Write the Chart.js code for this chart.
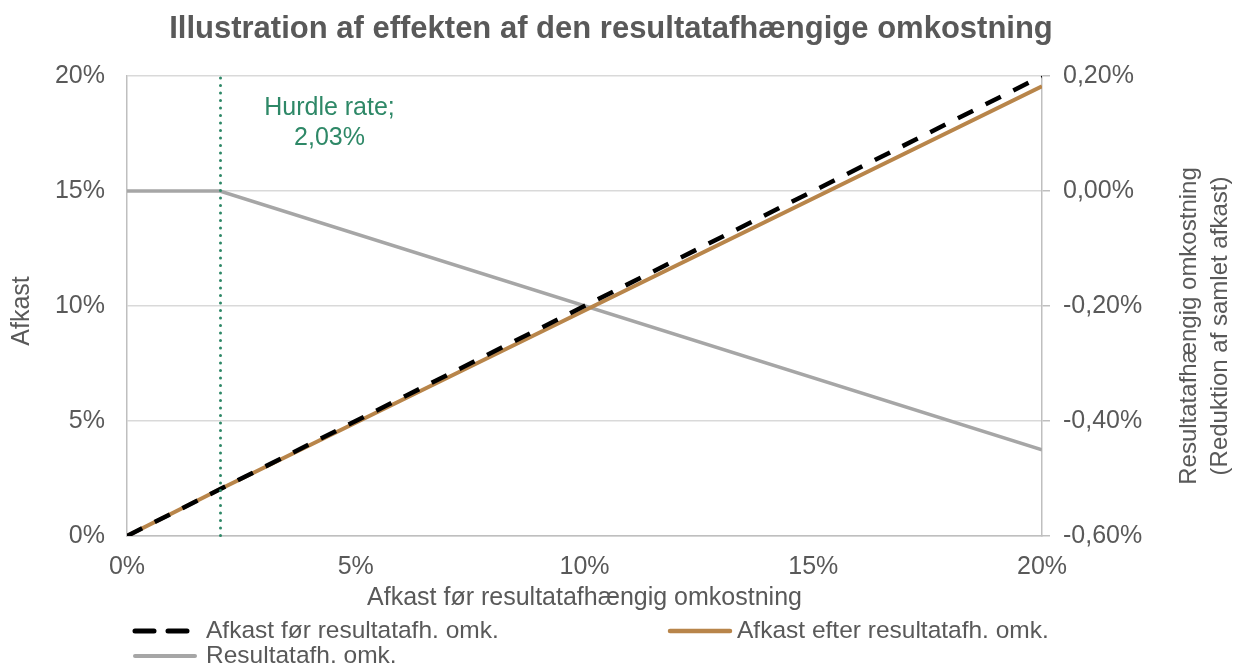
<!DOCTYPE html>
<html lang="da">
<head>
    <meta charset="UTF-8">
    <script src="https://cdn.jsdelivr.net/npm/chart.js"></script>
    <title>Resultatafhængig omkostning</title>
    <style>
        body { margin: 0; background: #fff; }
        #wrap { width: 1238px; height: 667px; }
    </style>
</head>
<body>
    <div id="wrap"><canvas id="fee-chart" width="1238" height="667"></canvas></div>

    <script>
        // afkast før omkostning (x-akse, %)
        const afkastX = [0, 2.03, 20];
        // serier
        const afkastFoer = [0, 2.03, 20];
        const afkastEfter = [0, 2.03, 19.55];
        const omkostning = [0, 0, -0.45];
        const hurdleRate = 2.03;

        const seriesNames = ['Afkast før resultatafh. omk.', 'Afkast efter resultatafh. omk.', 'Resultatafh. omk.'];
        const textColor = '#595959';
        const fontFamily = '"Liberation Sans", Arial, sans-serif';

        function pts(ys) {
            return afkastX.map((x, i) => ({ x: x, y: ys[i] }));
        }
        function pct(v) {
            if (Math.abs(v) < 1e-9) v = 0;
            return v.toFixed(2).replace('.', ',') + '%';
        }

        const extras = {
            id: 'extras',
            afterDatasetsDraw(chart) {
                const { ctx, chartArea, scales } = chart;
                const hx = Math.round(scales.x.getPixelForValue(hurdleRate)) + 0.5;
                ctx.save();
                ctx.strokeStyle = '#2E8867';
                ctx.lineWidth = 3;
                ctx.lineCap = 'round';
                ctx.setLineDash([0, 7.5]);
                ctx.beginPath();
                ctx.moveTo(hx, chartArea.top + 2);
                ctx.lineTo(hx, chartArea.bottom);
                ctx.stroke();
                ctx.setLineDash([]);
                ctx.fillStyle = '#2E8867';
                ctx.font = '25px ' + fontFamily;
                ctx.textAlign = 'center';
                ctx.textBaseline = 'middle';
                ctx.fillText('Hurdle rate;', hx + 109, chartArea.top + 32);
                ctx.fillText(pct(hurdleRate), hx + 109, chartArea.top + 62);
                ctx.restore();
            },
            afterDraw(chart) {
                const { ctx } = chart;
                ctx.save();
                // titel
                ctx.fillStyle = textColor;
                ctx.font = 'bold 31px ' + fontFamily;
                ctx.textAlign = 'center';
                ctx.textBaseline = 'middle';
                ctx.fillText('Illustration af effekten af den resultatafhængige omkostning', 611, 29);

                // venstre aksetitel
                ctx.font = '25px ' + fontFamily;
                ctx.save();
                ctx.translate(22, 311);
                ctx.rotate(-Math.PI / 2);
                ctx.fillText('Afkast', 0, 0);
                ctx.restore();

                // højre aksetitel
                ctx.font = '24px ' + fontFamily;
                ctx.translate(1189, 326);
                ctx.rotate(-Math.PI / 2);
                ctx.fillText('Resultatafhængig omkostning', 0, 0);
                ctx.fillText('(Reduktion af samlet afkast)', 0, 31);
                ctx.restore();

                // forklaring
                ctx.save();
                ctx.font = '24.5px ' + fontFamily;
                ctx.fillStyle = textColor;
                ctx.textBaseline = 'middle';
                ctx.textAlign = 'left';
                const items = [
                    { x: 133, y: 631, color: '#000000', dash: [19, 14], w: 5 },
                    { x: 668, y: 631, color: '#B8854A', dash: [], w: 4.5 },
                    { x: 133, y: 656, color: '#A6A6A6', dash: [], w: 4 }
                ];
                items.forEach((it, i) => {
                    ctx.strokeStyle = it.color;
                    ctx.lineWidth = it.w;
                    ctx.lineCap = 'round';
                    ctx.setLineDash(it.dash);
                    ctx.beginPath();
                    ctx.moveTo(it.x + 2, it.y);
                    ctx.lineTo(it.x + 62, it.y);
                    ctx.stroke();
                    ctx.setLineDash([]);
                    ctx.fillText(seriesNames[i], it.x + (i === 1 ? 69 : 73), it.y);
                });
                ctx.restore();
            }
        };

        const tickFont = { family: fontFamily, size: 25 };

        new Chart(document.getElementById('fee-chart'), {
            type: 'line',
            data: {
                datasets: [
                    {
                        label: seriesNames[0],
                        data: pts(afkastFoer),
                        borderColor: '#000000',
                        borderWidth: 4.5,
                        borderDash: [17, 14],
                        yAxisID: 'y'
                    },
                    {
                        label: seriesNames[1],
                        data: pts(afkastEfter),
                        borderColor: '#B8854A',
                        borderWidth: 4,
                        yAxisID: 'y'
                    },
                    {
                        label: seriesNames[2],
                        data: pts(omkostning),
                        borderColor: '#A6A6A6',
                        borderWidth: 3.5,
                        yAxisID: 'y1'
                    }
                ]
            },
            options: {
                responsive: false,
                animation: false,
                devicePixelRatio: 1,
                elements: { point: { radius: 0 }, line: { tension: 0 } },
                layout: { padding: { top: 76, bottom: 51, left: 0, right: 0 } },
                plugins: {
                    legend: { display: false },
                    tooltip: { enabled: false },
                    title: { display: false }
                },
                scales: {
                    x: {
                        type: 'linear',
                        min: 0,
                        max: 20,
                        afterFit: s => { s.height = 80; },
                        ticks: {
                            stepSize: 5,
                            color: textColor,
                            font: tickFont,
                            padding: 16,
                            maxRotation: 0,
                            callback: v => v + '%'
                        },
                        grid: { display: false, drawTicks: false },
                        border: { color: '#BFBFBF', width: 1.5 },
                        title: {
                            display: true,
                            text: 'Afkast før resultatafhængig omkostning',
                            color: textColor,
                            font: tickFont,
                            padding: { top: 0, bottom: 3 }
                        }
                    },
                    y: {
                        position: 'left',
                        min: 0,
                        max: 20,
                        afterFit: s => { s.width = 127; },
                        ticks: {
                            stepSize: 5,
                            color: textColor,
                            font: tickFont,
                            padding: 22,
                            callback: v => v + '%'
                        },
                        grid: { color: '#D9D9D9', lineWidth: 1.5, drawTicks: false },
                        border: { color: '#BFBFBF', width: 1.5 }
                    },
                    y1: {
                        position: 'right',
                        min: -0.6,
                        max: 0.2,
                        afterFit: s => { s.width = 196; },
                        ticks: {
                            stepSize: 0.2,
                            color: textColor,
                            font: tickFont,
                            padding: 13,
                            callback: v => pct(v)
                        },
                        grid: { drawOnChartArea: false, color: '#BFBFBF', lineWidth: 1.5, tickLength: 8 },
                        border: { color: '#BFBFBF', width: 1.5 }
                    }
                }
            },
            plugins: [extras]
        });
    </script>
</body>
</html>
